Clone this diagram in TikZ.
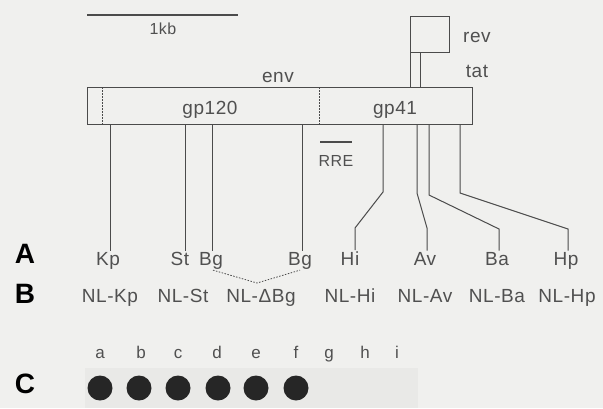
\documentclass[tikz,border=0pt]{standalone}
\usepackage{fontspec}
\setmainfont{Liberation Sans}[LetterSpace=3]
\newfontfamily\boldlab{Liberation Sans}[BoldFont={Liberation Sans Bold}]
\definecolor{bgc}{RGB}{240,240,238}
\definecolor{ink}{RGB}{80,80,80}
\definecolor{lineink}{RGB}{75,75,75}
\definecolor{blotbg}{RGB}{233,233,231}
\definecolor{dotc}{RGB}{38,38,38}
\tikzset{
  lab/.style={anchor=base, text=ink, font=\fontsize{19}{19}\selectfont, inner sep=1pt},
  smalllab/.style={anchor=base, text=ink, font=\fontsize{16}{16}\selectfont, inner sep=1pt},
  lanelab/.style={anchor=base, text=ink, font=\fontsize{17}{17}\selectfont, inner sep=1pt},
  rowlab/.style={anchor=base, text=black, font=\boldlab\bfseries\fontsize{28}{28}\selectfont, inner sep=0pt},
  gene/.style={draw=lineink, line width=1pt, inner sep=0pt},
  conn/.style={draw=lineink, line width=1pt},
  dotted sep/.style={draw=lineink, line width=0.9pt, dash pattern=on 1.5pt off 1.5pt},
  blot/.style={circle, fill=dotc, minimum size=25pt, inner sep=0pt},
}
\begin{document}
\begin{tikzpicture}[x=1pt,y=-1pt]
\useasboundingbox[fill=bgc] (0,0) rectangle (603,408);
% blot background
\fill[blotbg] (85,368) rectangle (418,408);
% scale bar
\coordinate (sb1) at (87,15);
\coordinate (sb2) at (238,15);
\draw[conn, line width=1.5pt] (sb1) -- (sb2);
\node[smalllab] (kb) at (163,34) {1kb};
% env box
\node[gene, minimum width=385pt, minimum height=37pt] (envbox) at (279.5,105.5) {};
\node[lab] (envlab) at (278,82) {env};
\node[lab] (gp120) at (210,114) {gp120};
\node[lab] (gp41) at (395,114) {gp41};
\coordinate (dl1t) at (102,87); \coordinate (dl1b) at (102,124);
\coordinate (dl2t) at (319,87); \coordinate (dl2b) at (319,124);
\draw[dotted sep] (dl1t) -- (dl1b);
\draw[dotted sep] (dl2t) -- (dl2b);
% rev / tat
\node[gene, minimum width=39pt, minimum height=36pt] (revbox) at (429.5,34) {};
\node[gene, minimum width=10pt, minimum height=35pt] (tatbox) at (415,69.5) {};
\node[lab] (revlab) at (477,42) {rev};
\node[lab] (tatlab) at (477,77) {tat};
% RRE
\coordinate (rre1) at (320,142);
\coordinate (rre2) at (352,142);
\draw[conn, line width=2.5pt] (rre1) -- (rre2);
\node[smalllab] (rrelab) at (336,166) {RRE};
% row A labels
\node[rowlab] (rowA) at (25,263) {A};
\node[lab] (Kp) at (108,265) {Kp};
\node[lab] (St) at (180,265) {St};
\node[lab] (Bg1) at (211,265) {Bg};
\node[lab] (Bg2) at (300,265) {Bg};
\node[lab] (Hi) at (350,265) {Hi};
\node[lab] (Av) at (425,265) {Av};
\node[lab] (Ba) at (497,265) {Ba};
\node[lab] (Hp) at (566,265) {Hp};
% connectors from env box
\coordinate (kpS) at (110,124);
\coordinate (stS) at (185,124);
\coordinate (bg1S) at (212,124);
\coordinate (bg2S) at (302,124);
\coordinate (hiS) at (383,124);
\coordinate (avS) at (417,124);
\coordinate (baS) at (429,124);
\coordinate (hpS) at (460,124);
\draw[conn] (kpS) -- (kpS |- Kp.north);
\draw[conn] (stS) -- (stS |- St.north);
\draw[conn] (bg1S) -- (bg1S |- Bg1.north);
\draw[conn] (bg2S) -- (bg2S |- Bg2.north);
\coordinate (hiK) at (383,192); \coordinate (hiB) at (355,228);
\coordinate (avK) at (417,193); \coordinate (avB) at (427,228);
\coordinate (baK) at (429,195); \coordinate (baB) at (499,229);
\coordinate (hpK) at (460,193); \coordinate (hpB) at (568,229);
\draw[conn] (hiS) -- (hiK) -- (hiB) -- (hiB |- Hi.north);
\draw[conn] (avS) -- (avK) -- (avB) -- (avB |- Av.north);
\draw[conn] (baS) -- (baK) -- (baB) -- (baB |- Ba.north);
\draw[conn] (hpS) -- (hpK) -- (hpB) -- (hpB |- Hp.north);
% row B
\node[rowlab] (rowB) at (25,303) {B};
\node[lab] (NKp) at (110,302) {NL-Kp};
\node[lab] (NSt) at (183,302) {NL-St};
\node[lab] (NBg) at (261,302) {NL-ΔBg};
\node[lab] (NHi) at (350,302) {NL-Hi};
\node[lab] (NAv) at (425,302) {NL-Av};
\node[lab] (NBa) at (497,302) {NL-Ba};
\node[lab] (NHp) at (567,302) {NL-Hp};
% dotted link between Bg sites
\coordinate (bgv) at (257,283);
\draw[dotted sep, line width=0.8pt] (Bg1.south) ++(2,0) coordinate (bg1d) (bg1d) -- (bgv) -- (Bg2.south);
% row C
\node[rowlab] (rowC) at (25,393) {C};
\foreach \n/\x in {a/100,b/141,c/178,d/217,e/256,f/296,g/329,h/365,i/397}{
  \node[lanelab] (l\n) at (\x,358) {\n};
}
\foreach \n/\x in {a/100,b/139,c/178,d/218,e/256,f/296}{
  \node[blot] (dot\n) at (\x,388) {};
}
\end{tikzpicture}
\end{document}
